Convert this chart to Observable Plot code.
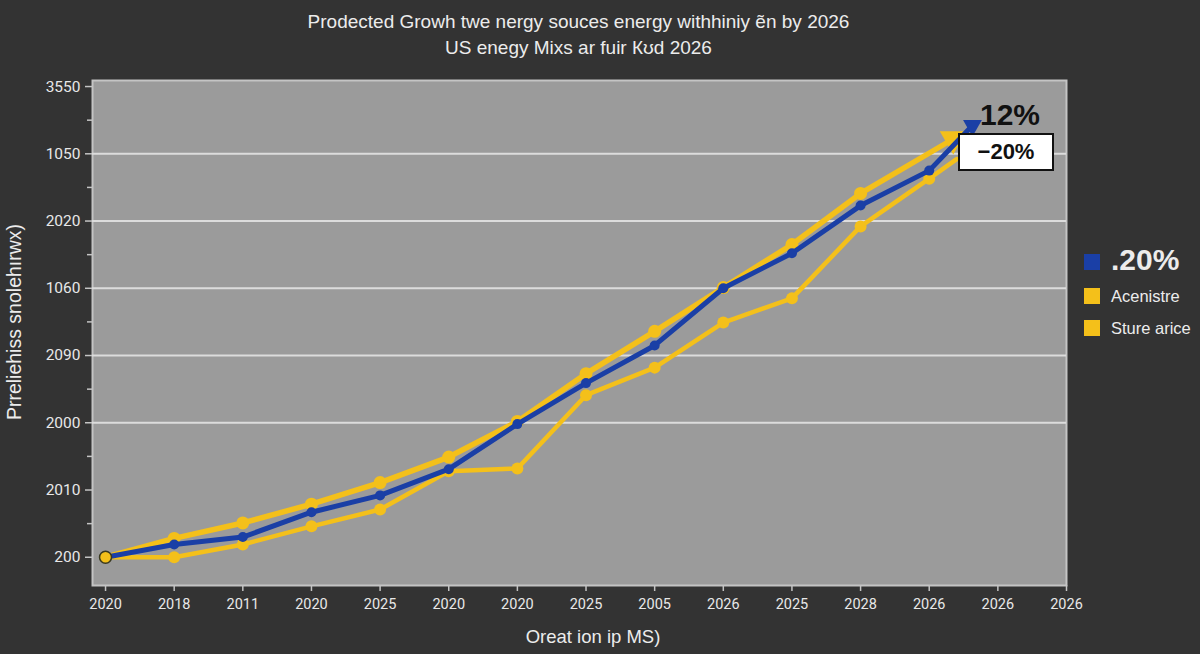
<!DOCTYPE html>
<html><head><meta charset="utf-8">
<script src="https://cdn.jsdelivr.net/npm/d3@7"></script>
<script src="https://cdn.jsdelivr.net/npm/@observablehq/plot@0.6"></script>
<style>
html,body{margin:0;padding:0;background:#333333;}
#wrap{position:relative;width:1200px;height:654px;font-family:"Liberation Sans",Arial,sans-serif;color:#ececec;overflow:hidden;}
#chart{position:absolute;left:0;top:0;}
.t{position:absolute;white-space:nowrap;}
.sw{position:absolute;width:16px;height:16px;}
</style></head><body>
<div id="wrap">
  <div id="chart"></div>
  <div class="t" style="left:0;width:1157px;top:11px;text-align:center;font-size:19px;">Prodected Growh twe nergy souces energy withhiniy ẽn by 2026</div>
  <div class="t" style="left:0;width:1157px;top:37px;text-align:center;font-size:19px;">US enegy Mixs ar fuir Кʊd 2026</div>
  <div class="t" style="left:14px;top:322px;transform:translate(-50%,-50%) rotate(-90deg);font-size:19.5px;">Prreliehiss snolehırwx)</div>
  <div class="t" style="left:0;width:1186px;top:626px;text-align:center;font-size:18.5px;">Oreat ion ip MS)</div>
  <div class="sw" style="left:1084px;top:254px;background:#1a3fa6;"></div>
  <div class="t" style="left:1111px;top:243px;font-size:30px;font-weight:bold;">.20%</div>
  <div class="sw" style="left:1084px;top:288px;background:#f4c01a;"></div>
  <div class="t" style="left:1111px;top:287px;font-size:16.5px;">Acenistre</div>
  <div class="sw" style="left:1084px;top:320px;background:#f4c01a;"></div>
  <div class="t" style="left:1111px;top:319px;font-size:16.5px;">Sture arice</div>
  <div class="t" style="left:980px;top:98px;font-size:30px;font-weight:bold;color:#111;">12%</div>
  <div class="t" style="left:958px;top:133px;width:92px;height:34px;background:#fff;border:2.5px solid #111;color:#111;font-size:22px;font-weight:bold;line-height:34px;text-align:center;">−20%</div>
</div>
<script>
const xLabels = ["2020","2018","2011","2020","2025","2020","2020","2025","2005","2026","2025","2028","2026","2026","2026"];
const yLabels = ["200","2010","2000","2090","1060","2020","1050","3550"];
const seriesNames = [".20%","Acenistre","Sture arice"];

const blueX = [0,1,2,3,4,5,6,7,8,9,10,11,12,12.63];
const blueY = [0,0.19,0.30,0.67,0.92,1.31,1.98,2.59,3.15,4.00,4.52,5.23,5.75,6.42];
const upperX = [0,1,2,3,4,5,6,7,8,9,10,11,12.35];
const upperY = [0,0.28,0.51,0.79,1.11,1.49,2.02,2.73,3.36,4.01,4.65,5.41,6.22];
const lowerX = [0,1,2,3,4,5,6,7,8,9,10,11,12,12.4];
const lowerY = [0,0,0.19,0.46,0.71,1.28,1.32,2.41,2.82,3.49,3.85,4.92,5.63,5.92];

const BLUE = "#1a3fa6", YEL = "#f4c01a";
const toRows = (xs, ys, s) => xs.map((x, i) => ({x, y: ys[i], s}));
const blue = toRows(blueX, blueY, seriesNames[0]);
const upper = toRows(upperX, upperY, seriesNames[1]);
const lower = toRows(lowerX, lowerY, seriesNames[2]);
const inner = rows => rows.slice(1, -1);

const chart = Plot.plot({
  width: 1200, height: 654,
  marginLeft: 92, marginRight: 134, marginTop: 80, marginBottom: 69,
  style: {background: "transparent", fontFamily: "Roboto, 'Liberation Sans', sans-serif"},
  x: {domain: [-0.19, 14], label: null},
  y: {domain: [-0.42, 7.09], label: null},
  marks: [
    Plot.frame({fill: "#9b9b9b", stroke: "#c4c4c4", strokeWidth: 2}),
    Plot.gridY([2,3,4,5,6], {stroke: "#dcdcdc", strokeOpacity: 1, strokeWidth: 2}),
    Plot.axisX(d3.range(15), {label: null, tickFormat: i => xLabels[i], tickSize: 6, tickPadding: 7, fontSize: 14.5, fill: "#e8e8e8", stroke: "#c4c4c4", strokeWidth: 1.5}),
    Plot.axisY(d3.range(8), {label: null, tickFormat: k => yLabels[k], tickSize: 7, tickPadding: 5, fontSize: 15.5, fill: "#e8e8e8", stroke: "#c4c4c4", strokeWidth: 1.5}),
    Plot.axisY(d3.range(0.5, 7, 1), {label: null, tickFormat: () => "", tickSize: 5, stroke: "#c4c4c4", strokeWidth: 1.5}),
    Plot.line(lower, {x: "x", y: "y", stroke: YEL, strokeWidth: 4.5}),
    Plot.dot(inner(lower), {x: "x", y: "y", fill: YEL, r: 6, symbol: "circle"}),
    Plot.line(upper, {x: "x", y: "y", stroke: YEL, strokeWidth: 5.5}),
    Plot.dot(inner(upper), {x: "x", y: "y", fill: YEL, r: 6.5}),
    Plot.dot(upper.slice(-1), {x: "x", y: "y", fill: YEL, symbol: "triangle", r: 10, rotate: 60}),
    Plot.line(blue, {x: "x", y: "y", stroke: BLUE, strokeWidth: 5}),
    Plot.dot(inner(blue), {x: "x", y: "y", fill: BLUE, r: 5}),
    Plot.dot(blue.slice(-1), {x: "x", y: "y", fill: BLUE, symbol: "triangle", r: 7, rotate: 180}),
    Plot.dot(lower.slice(0, 1), {x: "x", y: "y", fill: YEL, stroke: "#3a3a20", strokeWidth: 1.5, r: 6})
  ]
});
document.getElementById("chart").appendChild(chart);
</script>
</body></html>
